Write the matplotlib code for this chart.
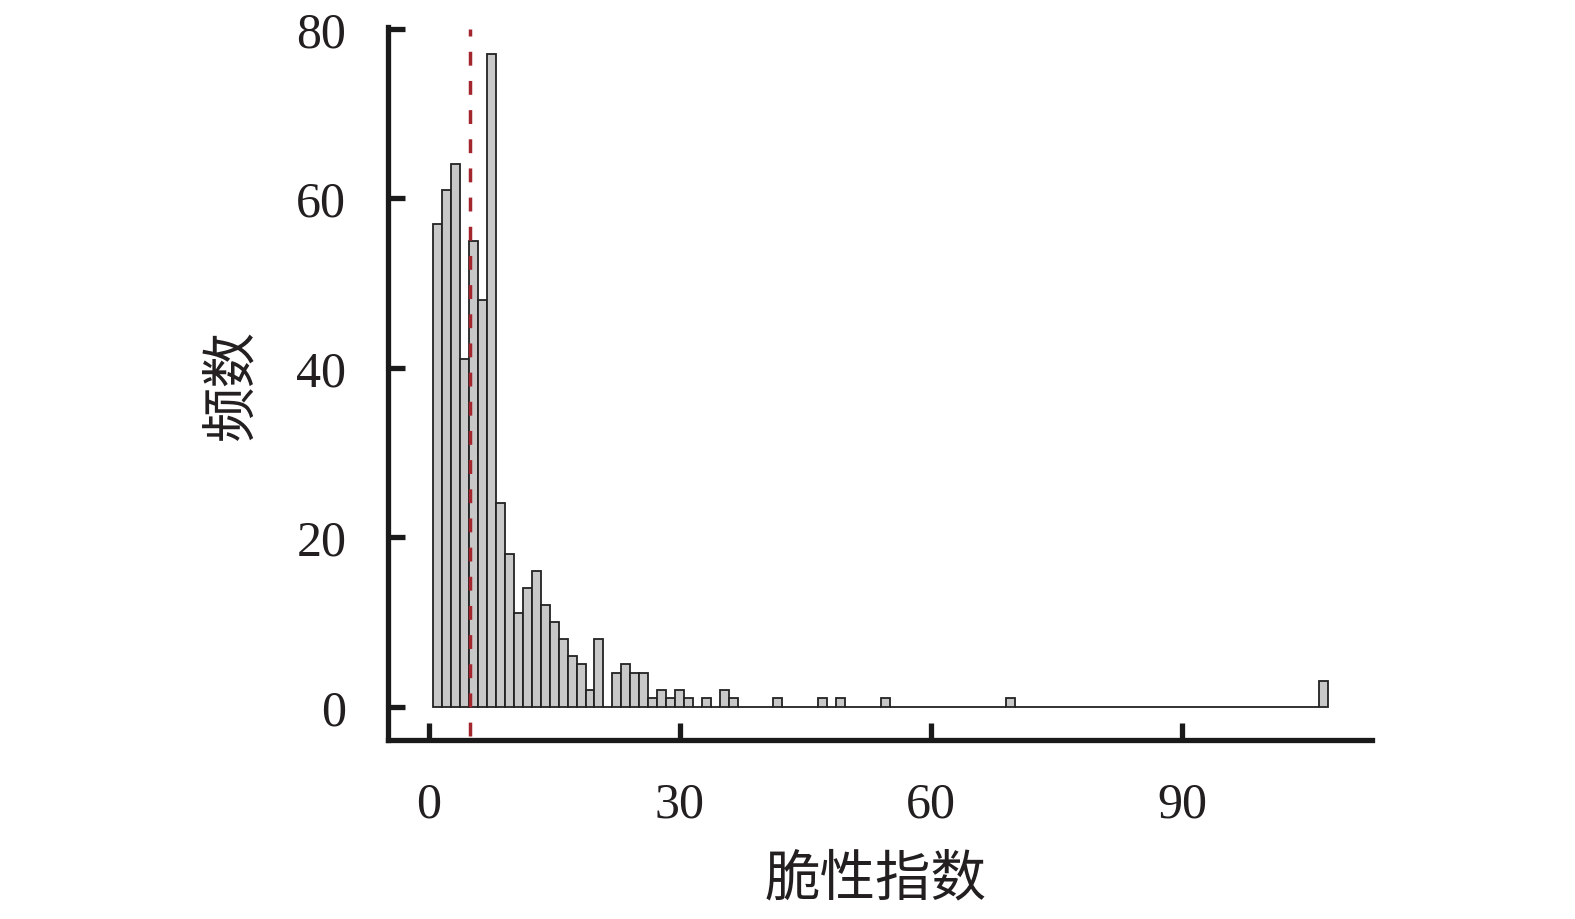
import numpy as np
import matplotlib
matplotlib.use("Agg")
import matplotlib.pyplot as plt

# ---- data ----
counts = [57, 61, 64, 41, 55, 48, 77, 24, 18, 11,
          14, 16, 12, 10, 8, 6, 5, 2, 8, 0,
          4, 5, 4, 4, 1, 2, 1, 2, 1, 0,
          1, 0, 2, 1, 0, 0, 0, 0, 1, 0,
          0, 0, 0, 1, 0, 1, 0, 0, 0, 0,
          1, 0, 0, 0, 0, 0, 0, 0, 0, 0,
          0, 0, 0, 0, 1, 0, 0, 0, 0, 0,
          0, 0, 0, 0, 0, 0, 0, 0, 0, 0,
          0, 0, 0, 0, 0, 0, 0, 0, 0, 0,
          0, 0, 0, 0, 0, 0, 0, 0, 0, 3]
bin_min = 0.54
bin_max = 107.45
ref_value = 4.9
x_ticks = [0, 30, 60, 90]
y_ticks = [0, 20, 40, 60, 80]
x_label = "脆性指数"
y_label = "频数"

edges = np.linspace(bin_min, bin_max, len(counts) + 1)
widths = np.diff(edges)

fig = plt.figure(figsize=(15.75, 9.2), dpi=100)
ax = fig.add_axes([0.2463, 0.1949, 0.8711 - 0.2463, 0.9696 - 0.1949])

ax.bar(edges[:-1], counts, width=widths, align="edge",
       facecolor="#c8c8c8", edgecolor="#222222", linewidth=1.3, zorder=2)

ax.vlines(ref_value, -3.5, 80, colors="#a3262f", linewidth=2.5,
          linestyles=(0, (4.0, 4.4)), zorder=3)

ax.set_xlim(-4.9, 112.7)
ax.set_ylim(-3.9, 80.2)

for s in ["top", "right"]:
    ax.spines[s].set_visible(False)
for s in ["left", "bottom"]:
    ax.spines[s].set_linewidth(3.8)
    ax.spines[s].set_color("#1a1a1a")
    ax.spines[s].set_capstyle("projecting")

serif = ["Liberation Serif", "DejaVu Serif"]
ax.set_xticks(x_ticks)
ax.set_yticks(y_ticks)
ax.set_xticklabels([str(v) for v in x_ticks], fontfamily=serif, fontsize=36, color="#231f20")
ax.set_yticklabels([str(v) for v in y_ticks], fontfamily=serif, fontsize=36, color="#231f20")
ax.tick_params(axis="both", direction="in", length=12, width=3.8, color="#1a1a1a")
ax.tick_params(axis="x", pad=30)
ax.tick_params(axis="y", pad=30)

cjk = ["Noto Sans CJK SC", "DejaVu Sans"]
fig.text(876 / 1575, 1 - 880 / 920, x_label, fontfamily=cjk, fontsize=40,
         ha="center", va="center", color="#231f20")
fig.text(232 / 1575, 1 - 385 / 920, y_label, fontfamily=cjk, fontsize=40,
         ha="center", va="center", rotation=90, color="#231f20")

fig.savefig("out.png", dpi=100)
